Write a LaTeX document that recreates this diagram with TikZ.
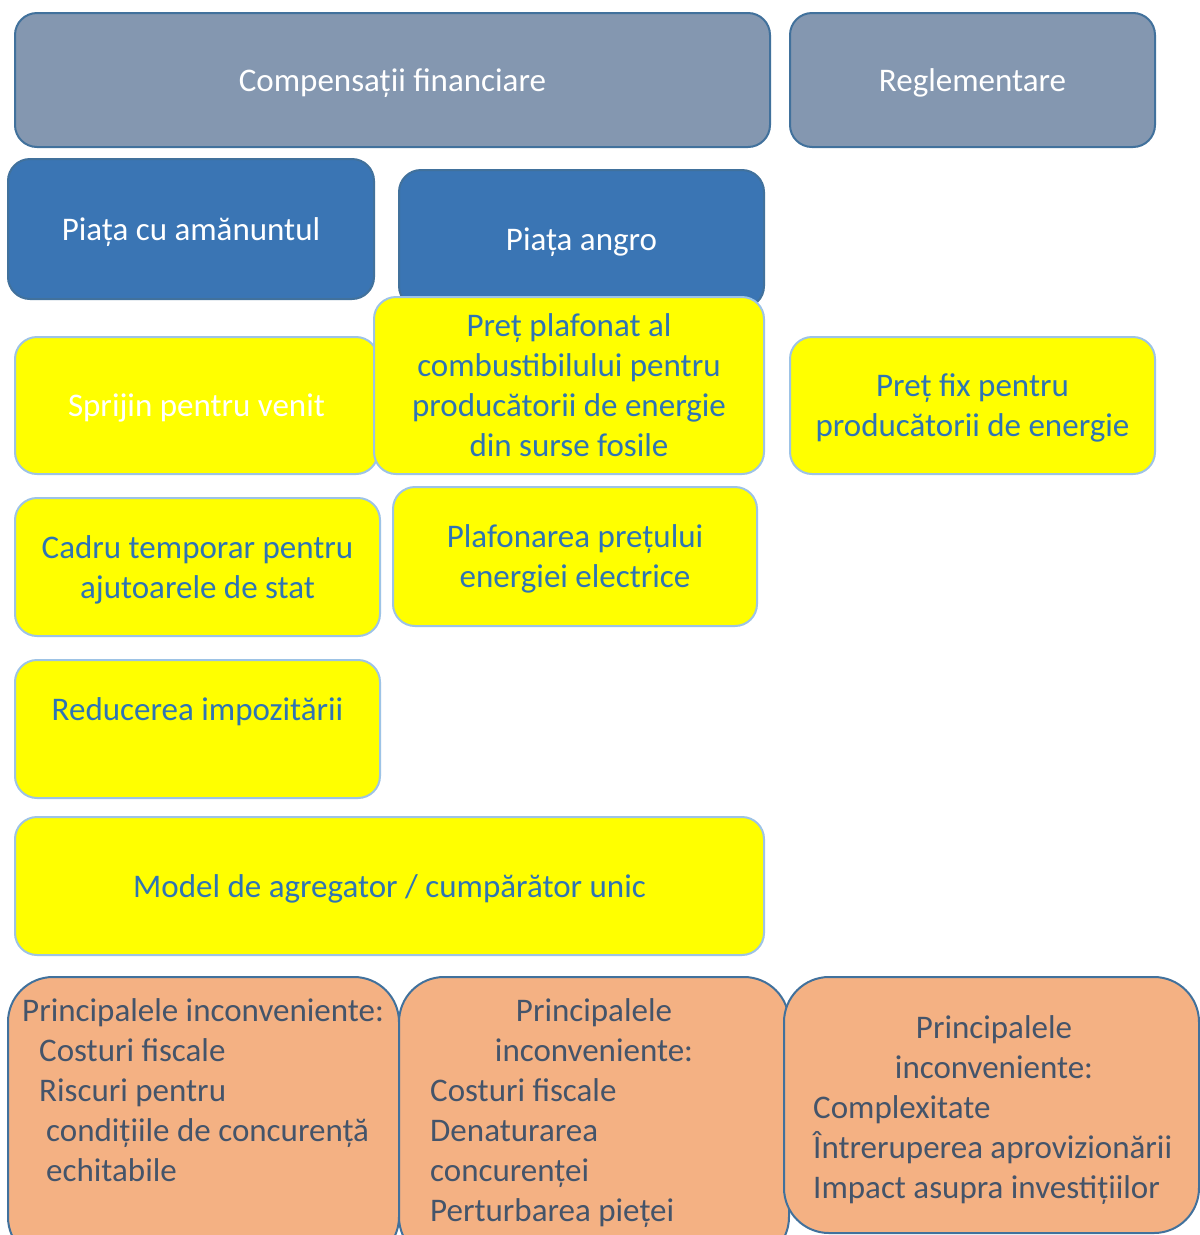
\documentclass[tikz,border=0pt]{standalone}
\usepackage{fontspec}
\setmainfont{Carlito}
\definecolor{grayfill}{HTML}{8497B0}
\definecolor{darkedge}{HTML}{41719C}
\definecolor{bluefill}{HTML}{3A75B4}
\definecolor{yel}{HTML}{FFFF00}
\definecolor{yedge}{HTML}{9DC3E6}
\definecolor{ytext}{HTML}{2E74B5}
\definecolor{salmon}{HTML}{F4B183}
\definecolor{stext}{HTML}{44546A}
\begin{document}
\begin{tikzpicture}[x=1pt,y=-1pt,
 base/.style={rectangle, rounded corners=22pt, line width=2pt, inner sep=0pt,
   font=\fontsize{33}{40}\selectfont, align=center, text depth=0pt},
 catbox/.style={base, fill=grayfill, draw=darkedge, text=white},
 mktbox/.style={base, fill=bluefill, draw=darkedge, text=white},
 ybox/.style={base, fill=yel, draw=yedge, text=ytext},
 dbox/.style={rectangle, rounded corners=45pt, line width=2pt, fill=salmon, draw=darkedge, inner sep=0pt},
 dtext/.style={font=\fontsize{33}{40}\selectfont, text=stext, inner sep=0pt}]
\useasboundingbox (0,0) rectangle (1200,1235);
\fill[white] (0,0) rectangle (1200,1235);

\node[catbox, minimum width=755, minimum height=134] (comp) at (392.5,80) {Compensații financiare};
\node[catbox, minimum width=365, minimum height=134] (regl) at (972.5,80) {Reglementare};
\node[mktbox, minimum width=366, minimum height=140] (retail) at (191,229) {Piața cu amănuntul};
\node[mktbox, minimum width=365, minimum height=138] (angro) at (581.5,239) {Piața angro};
\node[ybox, text=white, minimum width=363, minimum height=137] (sprijin) at (196.5,405.5) {Sprijin pentru venit};
\node[ybox, minimum width=390, minimum height=177] (plafonat) at (569,385.5) {Preț plafonat al\\combustibilului pentru\\producătorii de energie\\din surse fosile};
\node[ybox, minimum width=365, minimum height=137] (fix) at (972.5,405.5) {Preț fix pentru\\producătorii de energie};
\node[ybox, minimum width=365, minimum height=138] (cadru) at (197.5,567) {Cadru temporar pentru\\ajutoarele de stat};
\node[ybox, minimum width=364, minimum height=139] (plafel) at (575,556.5) {Plafonarea prețului\\energiei electrice};
\node[ybox, minimum width=365, minimum height=138] (reduc) at (197.5,729) {Reducerea impozitării\\\mbox{}};
\node[ybox, minimum width=749, minimum height=138] (model) at (389.5,886) {Model de agregator / cumpărător unic};

\node[dbox, minimum width=391, minimum height=285] (salA) at (203.5,1119.5) {};
\node[dbox, minimum width=390, minimum height=285] (salB) at (594,1119.5) {};
\node[dbox, minimum width=415, minimum height=256] (salC) at (991.5,1105) {};

\node[dtext, anchor=base west] (a1) at (22,1021) {Principalele inconveniente:};
\node[dtext, anchor=base west] (a2) at (39,1061) {Costuri fiscale};
\node[dtext, anchor=base west] (a3) at (39,1101) {Riscuri pentru};
\node[dtext, anchor=base west] (a4) at (46,1141) {condițiile de concurență};
\node[dtext, anchor=base west] (a5) at (46,1181) {echitabile};

\node[dtext, anchor=base] (b1) at (594,1021) {Principalele};
\node[dtext, anchor=base] (b2) at (594,1061) {inconveniente:};
\node[dtext, anchor=base west] (b3) at (430,1101) {Costuri fiscale};
\node[dtext, anchor=base west] (b4) at (430,1141) {Denaturarea};
\node[dtext, anchor=base west] (b5) at (430,1181) {concurenței};
\node[dtext, anchor=base west] (b6) at (430,1221) {Perturbarea pieței};

\node[dtext, anchor=base] (c1) at (994,1038) {Principalele};
\node[dtext, anchor=base] (c2) at (994,1078) {inconveniente:};
\node[dtext, anchor=base west] (c3) at (813,1118) {Complexitate};
\node[dtext, anchor=base west] (c4) at (813,1158) {Întreruperea aprovizionării};
\node[dtext, anchor=base west] (c5) at (813,1198) {Impact asupra investițiilor};
\end{tikzpicture}
\end{document}
